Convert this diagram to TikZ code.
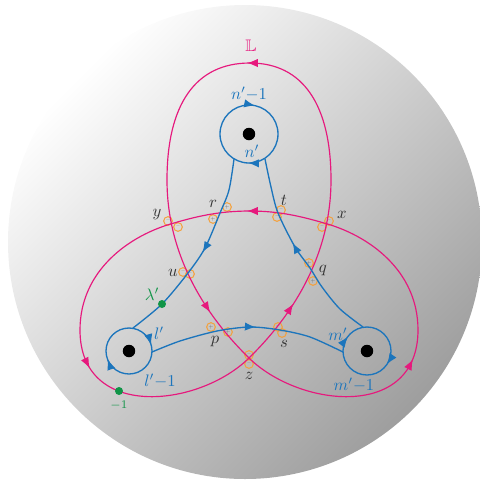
\documentclass[tikz,border=0pt]{standalone}
\usepackage{amsmath}
\usepackage{amssymb}
\usetikzlibrary{arrows.meta,decorations.markings}

\definecolor{lpink}{HTML}{E6197D}
\definecolor{lblue}{HTML}{1C75BC}
\definecolor{lgreen}{HTML}{109447}
\definecolor{lorange}{HTML}{F5A03A}

\begin{document}
\begin{tikzpicture}[x=0.6pt,y=-0.6pt,
  pinkline/.style={color=lpink, line width=0.7pt},
  blueline/.style={color=lblue, line width=0.8pt},
  tip/.style={-{Latex[length=6.5pt,width=5pt]}},
  arr/.style={postaction={decorate, decoration={markings, mark=at position #1 with {\arrow{Latex[length=6.5pt,width=5pt]}}}}},
  punct/.style={circle, fill=black, inner sep=0pt, minimum size=7.5pt},
  gdot/.style={circle, fill=lgreen, inner sep=0pt, minimum size=4.8pt},
  sgn/.style={circle, draw=lorange, line width=0.6pt, inner sep=0pt, minimum size=5.2pt, text=black!60, font=\fontsize{3}{3}\selectfont},
  lbl/.style={text=black!80, inner sep=1pt}]
\useasboundingbox (0,0) rectangle (480,485);
% sphere:
\shade[top color=white, bottom color=black!38, shading angle=45] (245,242) circle[radius=237];
% crossing signs:
\node[sgn] (r1) at (227,207) {+}; \node[sgn] (r2) at (213,219) {+};
\node[sgn] (t1) at (281,210) {--}; \node[sgn] (t2) at (277,217) {--};
\node[sgn] (y1) at (168,221) {--}; \node[sgn] (y2) at (178,227) {--};
\node[sgn] (x1) at (329,221) {--}; \node[sgn] (x2) at (322,227) {--};
\node[sgn] (u1) at (183,272) {--}; \node[sgn] (u2) at (190,274) {--};
\node[sgn] (q1) at (309,263) {+}; \node[sgn] (q2) at (313,281) {+};
\node[sgn] (p1) at (211,327) {+}; \node[sgn] (p2) at (228,332) {+};
\node[sgn] (s1) at (278,327) {--}; \node[sgn] (s2) at (282,333) {--};
\node[sgn] (z1) at (249,355) {--}; \node[sgn] (z2) at (249,364) {--};
% the curve L:
\draw[pinkline] (250,63) .. controls (195,63) and (167,105) .. (167,180)
  .. controls (167,250) and (200,310) .. (249,358)
  .. controls (300,408) and (418,420) .. (418,330)
  .. controls (418,270) and (368,235) .. (324,223)
  .. controls (300,216) and (278,211) .. (250,211)
  .. controls (220,211) and (198,216) .. (174,223)
  .. controls (130,235) and (80,270) .. (80,330)
  .. controls (80,420) and (198,408) .. (249,358)
  .. controls (298,310) and (331,250) .. (331,180)
  .. controls (331,105) and (303,63) .. cycle;
\draw[pinkline, tip] (257,63) -- (247,63);
\draw[pinkline, tip] (204.8,303.8) -- (210.2,312.5);
\draw[pinkline, tip] (408.3,368.2) -- (412.9,359.2);
\draw[pinkline, tip] (257,211) -- (247,211);
\draw[pinkline, tip] (85.1,359.2) -- (89.7,368.2);
\draw[pinkline, tip] (287.8,312.2) -- (293.2,303.8);
% punctures:
\node[punct] (pn) at (249,134) {};
\node[punct] (pl) at (129,351) {};
\node[punct] (pm) at (367,351) {};
% loops:
\draw[blueline, arr=0.255, arr=0.783] (pn.center) circle[radius=29];
\draw[blueline, arr=0.443, arr=0.957] (pl.center) circle[radius=23];
\draw[blueline, arr=0.094, arr=0.603] (pm.center) circle[radius=24];
% arcs between loops:
\draw[blueline, arr=0.49] plot[smooth] coordinates {(234,159) (229,190) (220,213) (205,248) (188,273) (162,304) (133,328)};
\draw[blueline, arr=0.555] plot[smooth] coordinates {(363,327) (340,309) (322,287) (310,268) (295,247) (278,213) (271,187) (265,159)};
\draw[blueline, arr=0.54] plot[smooth] coordinates {(152,352) (180,341) (217,331) (250,327) (280,330) (310,337) (343,352)};
% base points:
\node[gdot] (lam) at (162,304) {};
\node[gdot] (base) at (119,391) {};
% labels:
\node[text=lpink] (Lname) at (251,46) {$\mathbb{L}$};
\node[text=lblue] (nlab1) at (249,94) {$n'{-}1$};
\node[text=lblue] (nlab) at (252,151) {$n'$};
\node[text=lblue] (llab) at (159,333) {$l'$};
\node[text=lblue] (llab1) at (160,381) {$l'{-}1$};
\node[text=lblue] (mlab) at (338,334) {$m'$};
\node[text=lblue] (mlab1) at (354,385) {$m'{-}1$};
\node[text=lgreen] (lamlab) at (152,294) {$\lambda'$};
\node[text=lgreen, font=\scriptsize] (baselab) at (119,405) {$-1$};
\node[lbl] (rlab) at (213,204) {$r$};
\node[lbl] (tlab) at (284,200) {$t$};
\node[lbl] (ylab) at (157,215) {$y$};
\node[lbl] (xlab) at (342,215) {$x$};
\node[lbl] (ulab) at (173,273) {$u$};
\node[lbl] (qlab) at (323,271) {$q$};
\node[lbl] (plab) at (215,342) {$p$};
\node[lbl] (slab) at (284,344) {$s$};
\node[lbl] (zlab) at (249,376) {$z$};
\end{tikzpicture}
\end{document}
